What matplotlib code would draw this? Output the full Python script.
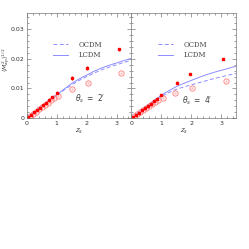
import matplotlib
matplotlib.use('Agg')
import matplotlib.pyplot as plt
from matplotlib.ticker import MultipleLocator

# curves
z_curve = [0, 0.25, 0.5, 0.75, 1.0, 1.25, 1.5, 1.75, 2.0, 2.25, 2.5, 2.75, 3.0, 3.25, 3.5]
lcdm_2 = [0, .0021, .0041, .0061, .0079, .0098, .0117, .0132, .0145, .0158, .0169, .0178, .0186, .0194, .0202]
ocdm_2 = [0, .0021, .0040, .0060, .0077, .0095, .0112, .0127, .0140, .0152, .0163, .0172, .0180, .0188, .0195]
lcdm_4 = [0, .0020, .0040, .0059, .0077, .0092, .0106, .0117, .0127, .0137, .0146, .0154, .0161, .0168, .0175]
ocdm_4 = [0, .0020, .0039, .0057, .0073, .0086, .0097, .0105, .0112, .0119, .0126, .0133, .0139, .0145, .0150]

# filled points with error bars
zf_2 = [0.05, 0.15, 0.25, 0.35, 0.45, 0.55, 0.65, 0.75, 0.85, 1.0, 1.52, 2.0, 3.08]
mf_2 = [.0004, .0011, .0019, .0027, .0035, .0043, .0052, .0060, .0070, .0085, .0135, .0169, .0232]
ef_2 = [.0001, .0001, .0002, .0002, .0002, .0003, .0003, .0003, .0004, .0005, .0006, .0006, .0006]
zf_4 = [0.05, 0.15, 0.25, 0.35, 0.45, 0.55, 0.65, 0.75, 0.85, 1.0, 1.52, 1.97, 3.07]
mf_4 = [.0004, .0010, .0018, .0026, .0033, .0040, .0048, .0056, .0064, .0079, .0120, .0149, .0200]
ef_4 = [.0001, .0001, .0001, .0002, .0002, .0002, .0002, .0003, .0003, .0003, .0004, .0004, .0004]

# open circles
zo_2 = [0.1, 0.2, 0.3, 0.4, 0.5, 0.6, 0.7, 0.8, 0.9, 1.05, 1.5, 2.05, 3.15]
mo_2 = [.0007, .0014, .0022, .0029, .0036, .0043, .0050, .0060, .0066, .0075, .0099, .0120, .0152]
zo_4 = [0.1, 0.2, 0.3, 0.4, 0.5, 0.6, 0.7, 0.8, 0.9, 1.05, 1.46, 2.02, 3.15]
mo_4 = [.0007, .0013, .0020, .0027, .0033, .0040, .0046, .0054, .0060, .0068, .0084, .0101, .0126]

panels = [
    (lcdm_2, ocdm_2, zf_2, mf_2, ef_2, zo_2, mo_2, "$\\theta_s\\ =\\ 2'$", 0.46, 0.18),
    (lcdm_4, ocdm_4, zf_4, mf_4, ef_4, zo_4, mo_4, "$\\theta_s\\ =\\ 4'$", 0.48, 0.16),
]

line_c = '#8c8cff'
fig = plt.figure(figsize=(2.49, 2.49), dpi=100)
lefts = [0.108, 0.528]
for i, (lc, oc, zf, mf, ef, zo, mo, lab, tx, ty) in enumerate(panels):
    ax = fig.add_axes([lefts[i], 0.526, 0.42, 0.422])
    ax.plot(z_curve, oc, ls=(0, (4, 2.5)), color=line_c, lw=0.7, label='OCDM')
    ax.plot(z_curve, lc, ls='-', color=line_c, lw=0.7, label='LCDM')
    ax.plot(zo, mo, 'o', mfc='none', mec='#ff7a7a', ms=3.8, mew=0.6)
    ax.plot(zo, mo, '.', color='#ffb0b0', ms=1.0)
    ax.errorbar(zf, mf, yerr=ef, fmt='s', color='red', ms=1.6, elinewidth=0.6, capsize=0)
    ax.set_xlim(0, 3.5)
    ax.set_ylim(0, 0.0355)
    ax.xaxis.set_minor_locator(MultipleLocator(0.2))
    ax.yaxis.set_minor_locator(MultipleLocator(0.002))
    ax.tick_params(which='both', direction='in', top=True, right=True, labelsize=4.5,
                   width=0.4, colors='#555555', labelcolor='#333333', pad=2)
    ax.tick_params(which='major', length=3)
    ax.tick_params(which='minor', length=1.5)
    for s in ax.spines.values():
        s.set_linewidth(0.5)
        s.set_color('#777777')
    ax.set_xticks([0, 1, 2, 3])
    ax.set_xticklabels(['0', '1', '2', '3'])
    ax.set_yticks([0, 0.01, 0.02, 0.03])
    if i == 0:
        ax.set_yticklabels(['0', '0.01', '0.02', '0.03'])
        ax.set_ylabel('$\\langle M_{ap}^2\\rangle^{1/2}$', fontsize=4.5, color='#444444')
        ax.yaxis.set_label_coords(-0.145, 0.55)
    else:
        ax.set_yticklabels([])
    ax.set_xlabel('$z_s$', fontsize=5, labelpad=1, color='#444444')
    ax.legend(loc='upper left', bbox_to_anchor=(0.22, 0.77), prop={'family': 'DejaVu Serif', 'size': 5},
              frameon=False, handlelength=2.1, handletextpad=1.6, labelspacing=0.35, borderpad=0,
              labelcolor='#444444')
    ax.text(tx, ty, lab, transform=ax.transAxes, fontsize=5.5, va='center', color='#444444')

fig.savefig('out.png', dpi=100)
